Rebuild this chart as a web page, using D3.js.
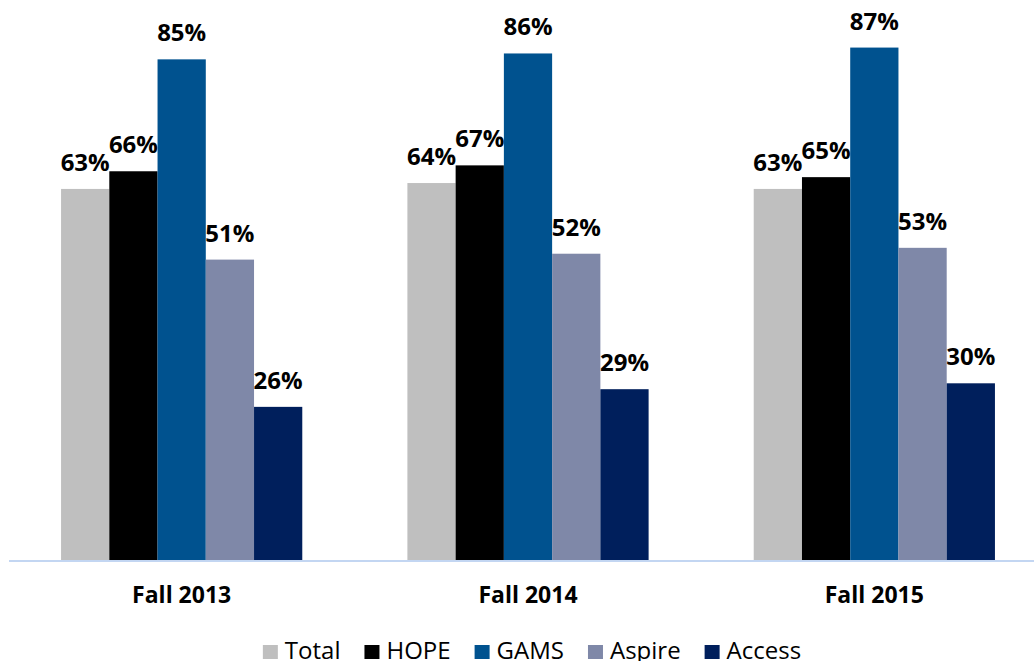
<!DOCTYPE html>
<html>
<head>
<meta charset="utf-8">
<script src="https://d3js.org/d3.v7.min.js"></script>
<style>
  body { margin: 0; background: #fff; }
  text { font-family: "Open Sans", sans-serif; }
</style>
</head>
<body>
<div id="chart"></div>
<script>
// data
var years = ["Fall 2013", "Fall 2014", "Fall 2015"];
var programs = ["Total", "HOPE", "GAMS", "Aspire", "Access"];
var colors = ["#bfbfbf", "#000000", "#00528f", "#7f88a8", "#001f5c"];
var total  = [63, 64, 63];
var hope   = [66, 67, 65];
var gams   = [85, 86, 87];
var aspire = [51, 52, 53];
var access = [26, 29, 30];

var seriesValues = [total, hope, gams, aspire, access];

var width = 1034, height = 661;
var baseY = 560;

var svg = d3.select("#chart").append("svg")
    .attr("width", width)
    .attr("height", height);

var x0 = d3.scaleBand()
    .domain(years)
    .range([8.5, 1047.5])
    .paddingInner(0.3035)
    .paddingOuter(0.15175);

var x1 = d3.scaleBand()
    .domain(programs)
    .range([0, x0.bandwidth()]);

var y = d3.scaleLinear()
    .domain([0, 100])
    .range([baseY, baseY - 589]);

var rows = [];
years.forEach(function(yr, i) {
  programs.forEach(function(p, j) {
    rows.push({year: yr, program: p, value: seriesValues[j][i], color: colors[j]});
  });
});

// bars
svg.append("g").selectAll("rect")
  .data(rows)
  .enter().append("rect")
    .attr("x", function(d) { return x0(d.year) + x1(d.program); })
    .attr("y", function(d) { return y(d.value); })
    .attr("width", x1.bandwidth())
    .attr("height", function(d) { return baseY - y(d.value); })
    .attr("fill", function(d) { return d.color; });

// value labels
svg.append("g").selectAll("text")
  .data(rows)
  .enter().append("text")
    .attr("x", function(d) { return x0(d.year) + x1(d.program) + x1.bandwidth() / 2; })
    .attr("y", function(d) { return y(d.value) - 18; })
    .attr("text-anchor", "middle")
    .style("font-size", "24px")
    .style("font-weight", "bold")
    .attr("fill", "#000")
    .text(function(d) { return d.value + "%"; });

// x axis line
svg.append("line")
    .attr("x1", 9).attr("x2", 1034)
    .attr("y1", baseY + 1).attr("y2", baseY + 1)
    .attr("stroke", "#c3d6f2")
    .attr("stroke-width", 2);

// category labels
svg.append("g").selectAll("text")
  .data(years)
  .enter().append("text")
    .attr("x", function(d) { return x0(d) + x0.bandwidth() / 2; })
    .attr("y", 603)
    .attr("text-anchor", "middle")
    .style("font-size", "23px")
    .style("font-weight", "bold")
    .attr("fill", "#000")
    .text(function(d) { return d; });

// legend
var legend = svg.append("g");
var cx = 0;
programs.forEach(function(p, j) {
  var item = legend.append("g").attr("transform", "translate(" + cx + ",0)");
  item.append("rect")
      .attr("x", 0).attr("y", -14)
      .attr("width", 15).attr("height", 14)
      .attr("fill", colors[j]);
  var t = item.append("text")
      .attr("x", 22).attr("y", 0)
      .style("font-size", "24px")
      .attr("fill", "#000")
      .text(p);
  cx += 22 + t.node().getComputedTextLength() + 24;
});
var legendWidth = cx - 24;
legend.attr("transform", "translate(" + (532 - legendWidth / 2) + ",659)");
</script>
</body>
</html>
